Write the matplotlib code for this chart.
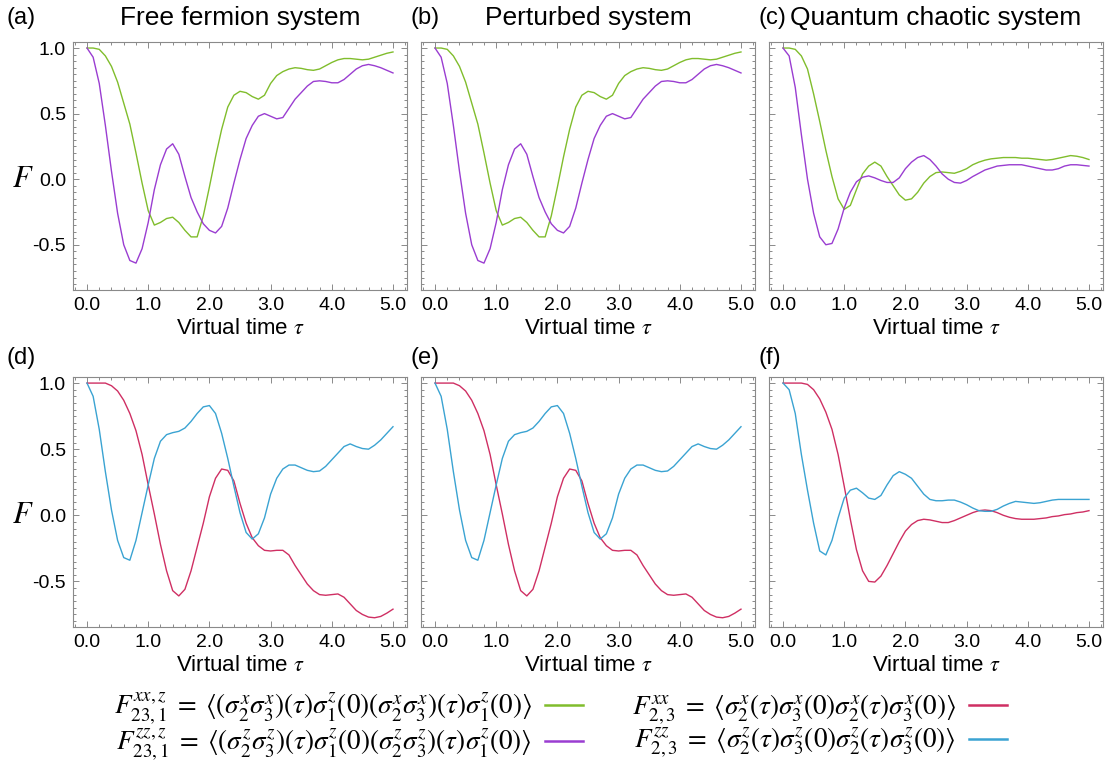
import matplotlib
matplotlib.use("Agg")
import matplotlib.pyplot as plt
from matplotlib.lines import Line2D
from matplotlib.ticker import MultipleLocator
import numpy as np

plt.rcParams["font.family"] = ["Liberation Sans", "DejaVu Sans"]
plt.rcParams["mathtext.fontset"] = "stix"

# virtual time grid (step 0.1)
TAU = np.round(np.arange(51) * 0.1, 1)

# ---- row 1: F_{23,1}^{xx,z} (green) and F_{23,1}^{zz,z} (purple) ----
FREE_XXZ = [1.00, 1.00, 0.99, 0.94, 0.86, 0.74, 0.58, 0.42, 0.20, -0.03,
            -0.24, -0.35, -0.33, -0.30, -0.29, -0.33, -0.39, -0.44, -0.44, -0.28,
            -0.06, 0.17, 0.38, 0.55, 0.64, 0.67, 0.66, 0.63, 0.61, 0.64,
            0.73, 0.79, 0.82, 0.84, 0.85, 0.845, 0.835, 0.83, 0.84, 0.865,
            0.89, 0.91, 0.92, 0.92, 0.915, 0.91, 0.915, 0.93, 0.945, 0.96, 0.97]
FREE_ZZZ = [1.00, 0.93, 0.73, 0.41, 0.06, -0.26, -0.50, -0.62, -0.64, -0.53,
            -0.33, -0.08, 0.11, 0.23, 0.27, 0.19, 0.02, -0.14, -0.25, -0.34,
            -0.39, -0.41, -0.36, -0.22, -0.03, 0.15, 0.31, 0.41, 0.48, 0.50,
            0.48, 0.46, 0.47, 0.54, 0.61, 0.66, 0.71, 0.745, 0.75, 0.745,
            0.735, 0.735, 0.76, 0.80, 0.84, 0.865, 0.875, 0.865, 0.85, 0.83, 0.81]

PERT_XXZ = [1.00, 1.00, 0.99, 0.94, 0.86, 0.74, 0.58, 0.42, 0.20, -0.03,
            -0.24, -0.35, -0.33, -0.30, -0.29, -0.33, -0.39, -0.44, -0.44, -0.28,
            -0.06, 0.17, 0.38, 0.55, 0.64, 0.67, 0.66, 0.63, 0.61, 0.64,
            0.73, 0.79, 0.82, 0.84, 0.85, 0.845, 0.835, 0.83, 0.84, 0.865,
            0.89, 0.91, 0.92, 0.92, 0.915, 0.91, 0.915, 0.93, 0.945, 0.96, 0.97]
PERT_ZZZ = [1.00, 0.93, 0.73, 0.41, 0.06, -0.26, -0.50, -0.62, -0.64, -0.53,
            -0.33, -0.08, 0.11, 0.23, 0.27, 0.19, 0.02, -0.14, -0.25, -0.34,
            -0.39, -0.41, -0.36, -0.22, -0.03, 0.15, 0.31, 0.41, 0.48, 0.50,
            0.48, 0.46, 0.47, 0.54, 0.61, 0.66, 0.71, 0.745, 0.75, 0.745,
            0.735, 0.735, 0.76, 0.80, 0.84, 0.865, 0.875, 0.865, 0.85, 0.83, 0.81]

CHAOS_XXZ = [1.00, 1.00, 0.99, 0.94, 0.84, 0.65, 0.44, 0.22, 0.02, -0.15,
             -0.23, -0.20, -0.08, 0.04, 0.10, 0.13, 0.10, 0.02, -0.05, -0.12,
             -0.16, -0.15, -0.10, -0.03, 0.02, 0.05, 0.055, 0.05, 0.045, 0.06,
             0.08, 0.11, 0.13, 0.145, 0.155, 0.16, 0.165, 0.165, 0.165, 0.16,
             0.16, 0.155, 0.15, 0.145, 0.15, 0.16, 0.17, 0.18, 0.175, 0.165, 0.15]
CHAOS_ZZZ = [1.00, 0.94, 0.70, 0.34, 0.00, -0.26, -0.44, -0.50, -0.49, -0.38,
             -0.22, -0.10, -0.02, 0.015, 0.025, 0.01, -0.01, -0.025, -0.025, 0.01,
             0.08, 0.13, 0.165, 0.18, 0.15, 0.10, 0.04, 0.00, -0.025, -0.03,
             -0.01, 0.02, 0.045, 0.07, 0.085, 0.10, 0.105, 0.11, 0.11, 0.11,
             0.10, 0.09, 0.08, 0.07, 0.07, 0.08, 0.10, 0.11, 0.11, 0.105, 0.10]

# ---- row 2: F_{2,3}^{xx} (red) and F_{2,3}^{zz} (blue) ----
FREE_XX = [1.00, 1.00, 1.00, 1.00, 0.98, 0.94, 0.87, 0.77, 0.64, 0.46,
           0.23, 0.01, -0.22, -0.42, -0.57, -0.61, -0.56, -0.42, -0.24, -0.06,
           0.14, 0.28, 0.35, 0.34, 0.26, 0.09, -0.06, -0.17, -0.23, -0.265,
           -0.27, -0.265, -0.265, -0.30, -0.38, -0.45, -0.52, -0.57, -0.60, -0.605,
           -0.60, -0.595, -0.62, -0.67, -0.72, -0.75, -0.77, -0.775, -0.765, -0.74, -0.71]
FREE_ZZ = [1.00, 0.90, 0.65, 0.33, 0.04, -0.19, -0.32, -0.34, -0.19, 0.02,
           0.23, 0.43, 0.56, 0.61, 0.625, 0.635, 0.66, 0.71, 0.77, 0.82,
           0.83, 0.77, 0.62, 0.43, 0.22, 0.02, -0.13, -0.18, -0.14, -0.02,
           0.16, 0.28, 0.35, 0.38, 0.38, 0.36, 0.34, 0.33, 0.335, 0.37,
           0.42, 0.47, 0.52, 0.54, 0.52, 0.505, 0.50, 0.53, 0.57, 0.62, 0.67]

PERT_XX = [1.00, 1.00, 1.00, 1.00, 0.98, 0.94, 0.87, 0.77, 0.64, 0.46,
           0.23, 0.01, -0.22, -0.42, -0.57, -0.61, -0.56, -0.42, -0.24, -0.06,
           0.14, 0.28, 0.35, 0.34, 0.26, 0.09, -0.06, -0.17, -0.23, -0.265,
           -0.27, -0.265, -0.265, -0.30, -0.38, -0.45, -0.52, -0.57, -0.60, -0.605,
           -0.60, -0.595, -0.62, -0.67, -0.72, -0.75, -0.77, -0.775, -0.765, -0.74, -0.71]
PERT_ZZ = [1.00, 0.90, 0.65, 0.33, 0.04, -0.19, -0.32, -0.34, -0.19, 0.02,
           0.23, 0.43, 0.56, 0.61, 0.625, 0.635, 0.66, 0.71, 0.77, 0.82,
           0.83, 0.77, 0.62, 0.43, 0.22, 0.02, -0.13, -0.18, -0.14, -0.02,
           0.16, 0.28, 0.35, 0.38, 0.38, 0.36, 0.34, 0.33, 0.335, 0.37,
           0.42, 0.47, 0.52, 0.54, 0.52, 0.505, 0.50, 0.53, 0.57, 0.62, 0.67]

CHAOS_XX = [1.00, 1.00, 1.00, 1.00, 0.99, 0.95, 0.88, 0.78, 0.65, 0.46,
            0.22, -0.03, -0.26, -0.42, -0.50, -0.505, -0.46, -0.38, -0.29, -0.20,
            -0.12, -0.07, -0.04, -0.03, -0.035, -0.045, -0.055, -0.055, -0.04, -0.02,
            0.00, 0.02, 0.035, 0.04, 0.035, 0.02, 0.00, -0.015, -0.025, -0.03,
            -0.03, -0.03, -0.025, -0.02, -0.01, -0.005, 0.005, 0.01, 0.02, 0.025, 0.035]
CHAOS_ZZ = [1.00, 0.95, 0.77, 0.46, 0.19, -0.06, -0.27, -0.30, -0.19, -0.02,
            0.13, 0.19, 0.205, 0.17, 0.13, 0.12, 0.15, 0.23, 0.30, 0.33,
            0.31, 0.28, 0.22, 0.16, 0.12, 0.11, 0.11, 0.115, 0.115, 0.10,
            0.08, 0.055, 0.035, 0.03, 0.03, 0.045, 0.07, 0.09, 0.105, 0.10,
            0.095, 0.09, 0.095, 0.105, 0.115, 0.12, 0.12, 0.12, 0.12, 0.12, 0.12]

TITLES = ["Free fermion system", "Perturbed system", "Quantum chaotic system"]
PANEL_TAGS = [["(a)", "(b)", "(c)"], ["(d)", "(e)", "(f)"]]
ROW1 = [(FREE_XXZ, FREE_ZZZ), (PERT_XXZ, PERT_ZZZ), (CHAOS_XXZ, CHAOS_ZZZ)]
ROW2 = [(FREE_XX, FREE_ZZ), (PERT_XX, PERT_ZZ), (CHAOS_XX, CHAOS_ZZ)]

GREEN, PURPLE = "#80bd2c", "#9a3dd1"
RED, BLUE = "#cf2f63", "#3aa3d2"
FRAME = "#8a8a8a"

LEG_ROW1 = [
    r"$F^{xx,z}_{23,1}\;=\;\langle(\sigma^x_2\sigma^x_3)(\tau)\sigma^z_1(0)(\sigma^x_2\sigma^x_3)(\tau)\sigma^z_1(0)\rangle$",
    r"$F^{zz,z}_{23,1}\;=\;\langle(\sigma^z_2\sigma^z_3)(\tau)\sigma^z_1(0)(\sigma^z_2\sigma^z_3)(\tau)\sigma^z_1(0)\rangle$",
]
LEG_ROW2 = [
    r"$F^{xx}_{2,3}\;=\;\langle\sigma^x_2(\tau)\sigma^x_3(0)\sigma^x_2(\tau)\sigma^x_3(0)\rangle$",
    r"$F^{zz}_{2,3}\;=\;\langle\sigma^z_2(\tau)\sigma^z_3(0)\sigma^z_2(\tau)\sigma^z_3(0)\rangle$",
]

W, H = 1117, 763
fig = plt.figure(figsize=(W / 100, H / 100), dpi=100)

LEFTS = [73, 421, 769]
AX_W = 334
ROWS = [(42, 290), (377, 627)]
XLIM = (-0.229, 5.229)
YLIM = (-0.845, 1.046)


def _style(ax, first_col):
    ax.set_xlim(*XLIM)
    ax.set_ylim(*YLIM)
    ax.xaxis.set_major_locator(MultipleLocator(1.0))
    ax.xaxis.set_minor_locator(MultipleLocator(0.2))
    ax.yaxis.set_major_locator(MultipleLocator(0.5))
    ax.yaxis.set_minor_locator(MultipleLocator(0.05))
    ax.xaxis.set_major_formatter(lambda v, p: f"{v:.1f}")
    ax.yaxis.set_major_formatter(lambda v, p: f"{v:.1f}")
    ax.tick_params(which="both", direction="in", top=True, right=True,
                   color=FRAME, width=0.7, labelsize=14, pad=5)
    ax.tick_params(which="major", length=4)
    ax.tick_params(which="minor", length=2.2)
    ax.tick_params(axis="y", labelleft=first_col)
    for s in ax.spines.values():
        s.set_color(FRAME)
        s.set_linewidth(0.8)
    ax.set_xlabel(r"Virtual time $\tau$", fontsize=16, labelpad=3)
    if first_col:
        ax.set_ylabel(r"$F$", fontsize=22, rotation=0, va="center", ha="center")
        ax.yaxis.set_label_coords(-0.15, (0 - YLIM[0]) / (YLIM[1] - YLIM[0]))


for r, (top, bot) in enumerate(ROWS):
    series = ROW1 if r == 0 else ROW2
    colors = (GREEN, PURPLE) if r == 0 else (RED, BLUE)
    for c in range(3):
        ax = fig.add_axes([LEFTS[c] / W, 1 - bot / H, AX_W / W, (bot - top) / H])
        s1, s2 = series[c]
        ax.plot(TAU, s1, color=colors[0], lw=1.0)
        ax.plot(TAU, s2, color=colors[1], lw=1.0)
        _style(ax, c == 0)
        # panel tag at the left, title centred over the axes
        ty = 1 + (24 if r == 0 else 19) / (bot - top)
        ax.text(-0.2 if c == 0 else -0.03, ty, PANEL_TAGS[r][c], transform=ax.transAxes,
                fontsize=17, ha="left", va="center")
        if r == 0:
            ax.text(0.5, ty, TITLES[c], transform=ax.transAxes,
                    fontsize=19, ha="center", va="center")

h1 = [Line2D([], [], color=GREEN, lw=1.8), Line2D([], [], color=PURPLE, lw=1.8)]
h2 = [Line2D([], [], color=RED, lw=1.8), Line2D([], [], color=BLUE, lw=1.8)]
fig.legend(h1, LEG_ROW1, loc="center right", bbox_to_anchor=(594 / W, 1 - 727 / H),
           markerfirst=False, frameon=False, fontsize=19.5, handlelength=1.4,
           labelspacing=0.0, handletextpad=0.5, borderaxespad=0)
fig.legend(h2, LEG_ROW2, loc="center right", bbox_to_anchor=(1018 / W, 1 - 727 / H),
           markerfirst=False, frameon=False, fontsize=19.5, handlelength=1.4,
           labelspacing=0.0, handletextpad=0.5, borderaxespad=0)

fig.savefig("out.png", dpi=100)
